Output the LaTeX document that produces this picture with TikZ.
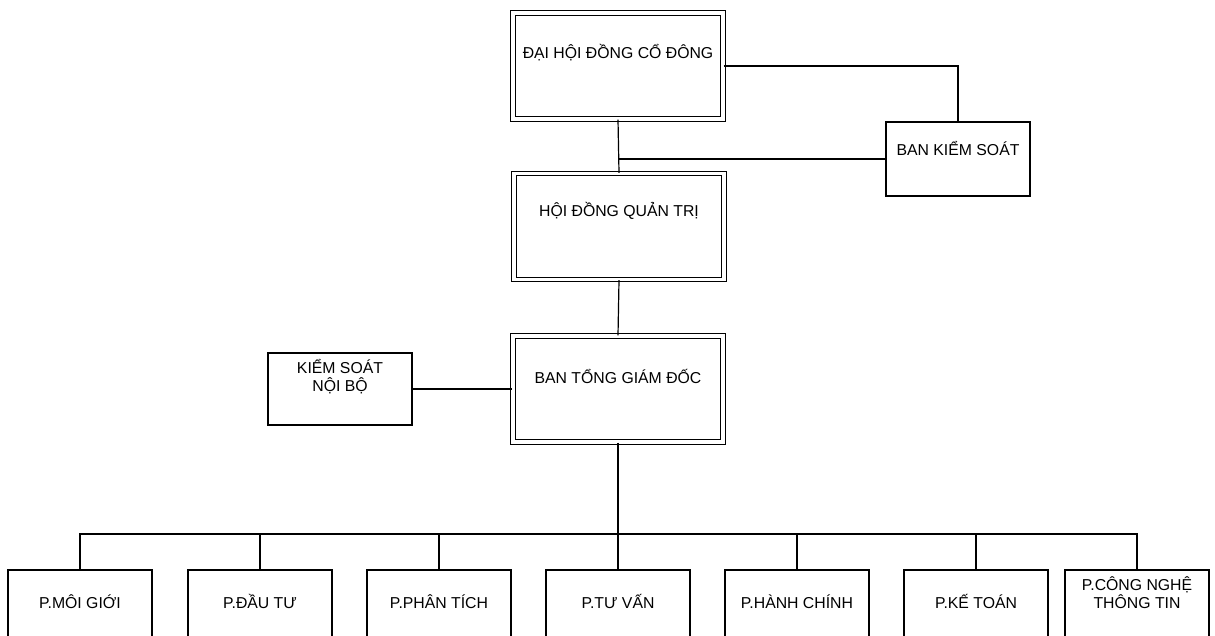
\documentclass[tikz,border=0pt]{standalone}
\usepackage{fontspec}
\setmainfont{Liberation Sans}

\begin{document}
\begin{tikzpicture}[x=0.5pt,y=-0.5pt,line width=0.6pt,
        box/.style={draw,rectangle,inner sep=0pt,align=center,font=\fontsize{7.9}{8.8}\selectfont,text height=5.5pt,text depth=#1},
        box/.default=0pt,
        dbox/.style={box=#1,double,double distance=1.6pt,minimum width=105pt,minimum height=53pt},
        dbox/.default=0pt,
        side/.style={box=#1,minimum width=72pt,minimum height=37pt},
        side/.default=0pt,
        dept/.style={box=#1,minimum width=72pt,minimum height=50pt},
        dept/.default=17pt]
            \useasboundingbox (0,0) rectangle (1215,636);
            \clip (0,0) rectangle (1215,636);
            \node[dbox=13pt] (dhd) at (618,66) {ĐẠI HỘI ĐỒNG CỔ ĐÔNG};
            \node[side=9pt] (bks) at (958,159) {BAN KIỂM SOÁT};
            \node[dbox=15pt] (hdqt) at (619,226.5) {HỘI ĐỒNG QUẢN TRỊ};
            \node[dbox=11pt] (btgd) at (618,389) {BAN TỔNG GIÁM ĐỐC};
            \node[side=3.5pt,minimum height=36pt] (ksnb) at (340,389) {KIỂM SOÁT\\NỘI BỘ};
            \node[dept] (pmg) at (80,620) {P.MÔI GIỚI};
            \node[dept] (pdt) at (260,620) {P.ĐẦU TƯ};
            \node[dept] (ppt) at (439,620) {P.PHÂN TÍCH};
            \node[dept] (ptv) at (618,620) {P.TƯ VẤN};
            \node[dept] (phc) at (797,620) {P.HÀNH CHÍNH};
            \node[dept] (pkt) at (976,620) {P.KẾ TOÁN};
            \node[dept=17pt] (pcntt) at (1137,620) {P.CÔNG NGHỆ\\THÔNG TIN};
            \coordinate (bus) at (618,534);
            \draw (dhd.east) -| (bks.north);
            \draw (dhd.south) -- (hdqt.north);
            \draw (bks.west) -- (bks.west -| dhd.south);
            \draw (hdqt.south) -- (btgd.north);
            \draw (ksnb.east) -- (btgd.west);
            \draw (btgd.south) -- (bus);
            \draw (pmg.north) |- (pcntt.north |- bus) -- (pcntt.north);
            \draw (pdt.north) -- (pdt.north |- bus);
            \draw (ppt.north) -- (ppt.north |- bus);
            \draw (ptv.north) -- (bus);
            \draw (phc.north) -- (phc.north |- bus);
            \draw (pkt.north) -- (pkt.north |- bus);
        \end{tikzpicture}
\end{document}
